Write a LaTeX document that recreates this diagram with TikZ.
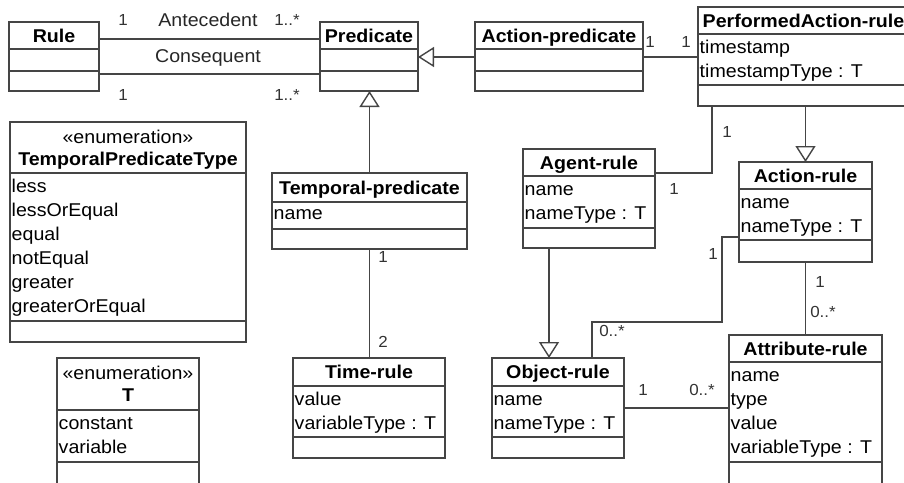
\documentclass[tikz,border=0pt]{standalone}
\usepackage{fontspec}
\setmainfont{Liberation Sans}[FakeStretch=1.06]
\usetikzlibrary{arrows.meta}

\definecolor{umlline}{HTML}{454545}

\tikzset{
  classbox/.style={draw=umlline, line width=1.3pt, fill=white, rectangle,
    inner sep=0pt, outer sep=0pt, anchor=north west},
  divider/.style={draw=umlline, line width=1.3pt},
  headtext/.style={font=\fontsize{18.5}{22}\selectfont\bfseries, anchor=base, inner sep=0pt},
  stereo/.style={font=\fontsize{18.5}{22}\selectfont, anchor=base, inner sep=0pt},
  attrtext/.style={font=\fontsize{18.5}{22}\selectfont, anchor=base west, inner sep=0pt},
  mult/.style={font=\fontsize{16}{18}\selectfont, text=black!80, inner sep=0pt},
  role/.style={font=\fontsize{18.5}{22}\selectfont, text=black!85, anchor=base, inner sep=0pt},
  assoc/.style={draw=umlline, line width=1.4pt},
  inherit/.style={draw=umlline, line width=1.4pt,
    -{Triangle[open, length=16pt, width=20pt, fill=white]}},
}

% class box: name, x, y, width, height, header height, attribute height
\newcommand\umlclass[7]{%
  \node[classbox, minimum width=#4pt, minimum height=#5pt] (#1) at (#2,#3) {};
  \draw[divider] ([yshift=-#6pt]#1.north west) -- ([yshift=-#6pt]#1.north east);
  \draw[divider] ([yshift={-(#6+#7)*1pt}]#1.north west) -- ([yshift={-(#6+#7)*1pt}]#1.north east);
}
% attribute lines: name, header height, list
\newcommand\umlattrs[3]{%
  \foreach \t [count=\i] in {#3}
    \node[attrtext] (#1-a\i) at ([xshift=1.5pt,yshift={-(#2+19+(\i-1)*24)*1pt}]#1.north west) {\t};
}

\begin{document}
\begin{tikzpicture}[x=1pt, y=-1pt]
\useasboundingbox (0,0) rectangle (904,482);
\clip (0,0) rectangle (904,482);

% classes
\umlclass{rule}{9}{22}{90}{69}{27}{22}
\node[headtext] (rule-t) at ([yshift=-20pt]rule.north) {Rule};

\umlclass{pred}{320}{22}{98}{69}{27}{22}
\node[headtext] (pred-t) at ([yshift=-20pt]pred.north) {Predicate};

\umlclass{actpred}{475}{22}{168}{69}{27}{22}
\node[headtext] (actpred-t) at ([yshift=-20pt]actpred.north) {Action-predicate};

\umlclass{perf}{698}{7}{211}{99}{27}{51}
\node[headtext] (perf-t) at ([yshift=-20pt]perf.north) {PerformedAction-rule};
\umlattrs{perf}{27}{timestamp, timestampType : T}

\umlclass{tpt}{10}{122}{236}{220}{51}{148}
\node[stereo] (tpt-s) at ([yshift=-21pt]tpt.north) {«enumeration»};
\node[headtext] (tpt-t) at ([yshift=-43pt]tpt.north) {TemporalPredicateType};
\umlattrs{tpt}{51}{less, lessOrEqual, equal, notEqual, greater, greaterOrEqual}

\umlclass{tp}{272}{173}{195}{76}{29}{27}
\node[headtext] (tp-t) at ([yshift=-21pt]tp.north) {Temporal-predicate};
\umlattrs{tp}{27}{name}

\umlclass{agent}{523}{149}{132}{99}{27}{52}
\node[headtext] (agent-t) at ([yshift=-20pt]agent.north) {Agent-rule};
\umlattrs{agent}{27}{name, nameType : T}

\umlclass{act}{739}{162}{133}{100}{27}{51}
\node[headtext] (act-t) at ([yshift=-20pt]act.north) {Action-rule};
\umlattrs{act}{27}{name, nameType : T}

\umlclass{tenum}{57}{358}{142}{126}{52}{52}
\node[stereo] (tenum-s) at ([yshift=-21pt]tenum.north) {«enumeration»};
\node[headtext] (tenum-t) at ([yshift=-43pt]tenum.north) {T};
\umlattrs{tenum}{52}{constant, variable}

\umlclass{time}{293}{358}{152}{100}{28}{51}
\node[headtext] (time-t) at ([yshift=-20pt]time.north) {Time-rule};
\umlattrs{time}{28}{value, variableType : T}

\umlclass{obj}{492}{358}{132}{100}{28}{51}
\node[headtext] (obj-t) at ([yshift=-20pt]obj.north) {Object-rule};
\umlattrs{obj}{28}{name, nameType : T}

\umlclass{attr}{729}{335}{153}{150}{27}{100}
\node[headtext] (attr-t) at ([yshift=-20pt]attr.north) {Attribute-rule};
\umlattrs{attr}{27}{name, type, value, variableType : T}

% associations and generalizations
\draw[assoc] ([yshift=-17pt]rule.north east) -- ([yshift=-17pt]pred.north west);
\draw[assoc] ([yshift=17pt]rule.south east) -- ([yshift=17pt]pred.south west);
\draw[inherit] ([yshift=-35pt]actpred.north west) -- ([yshift=-35pt]pred.north east);
\draw[assoc] ([yshift=-35pt]actpred.north east) -- ([yshift=-35pt]actpred.north east -| perf.west);
\draw[inherit] (tp.north) -- (tp.north |- pred.south);
\draw[assoc] (tp.south) -- (tp.south |- time.north);
\draw[assoc] ([yshift=-24pt]agent.north east) -| ([xshift=14pt]perf.south west);
\draw[inherit] (perf.south -| act.north) -- (act.north);
\draw[assoc] ([yshift=-75pt]act.north west) -- ++(-17,0) -- ++(0,85) -| ([xshift=100pt]obj.north west);
\draw[assoc] (act.south) -- (act.south |- attr.north);
\draw[assoc] ([yshift=-50pt]obj.north east) -- ([yshift=-50pt]obj.north east -| attr.west);
\draw[inherit] ([xshift=26pt]agent.south west) -- ([xshift=26pt]agent.south west |- obj.north);

% role names and multiplicities
\node[role] (role-ante) at (208,26) {Antecedent};
\node[role] (role-cons) at (208,62) {Consequent};
\node[mult, anchor=base] (m-ante-r) at (123,25) {1};
\node[mult, anchor=base] (m-ante-p) at (287,25) {1..*};
\node[mult, anchor=base] (m-cons-r) at (123,100) {1};
\node[mult, anchor=base] (m-cons-p) at (287,100) {1..*};
\node[mult] (m-ap-a) at (650,42) {1};
\node[mult] (m-ap-p) at (686,42) {1};
\node[mult] (m-pa-p) at (727,132) {1};
\node[mult] (m-pa-a) at (674,189) {1};
\node[mult] (m-tt-p) at (383,257) {1};
\node[mult] (m-tt-t) at (383,342) {2};
\node[mult] (m-ao-a) at (713,254) {1};
\node[mult] (m-ao-o) at (612,331) {0..*};
\node[mult] (m-aa-a) at (820,282) {1};
\node[mult] (m-aa-t) at (823,312) {0..*};
\node[mult] (m-oa-o) at (643,390) {1};
\node[mult] (m-oa-t) at (702,390) {0..*};
\end{tikzpicture}
\end{document}
